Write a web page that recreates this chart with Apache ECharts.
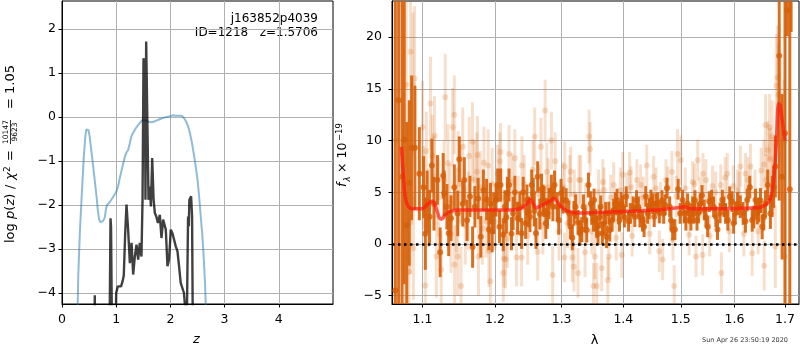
<!DOCTYPE html>
<html>
<head>
<meta charset="utf-8">
<script src="https://cdn.jsdelivr.net/npm/echarts@6/dist/echarts.min.js"></script>
<style>
html, body { margin: 0; padding: 0; background: #fff; }
#chart { width: 800px; height: 350px; }
</style>
</head>
<body>
<div id="chart"></div>
<script>
// left panel: log p(z), [z, value]
var pzTicksX = [0, 1, 2, 3, 4];
var pzTicksY = [-4, -3, -2, -1, 0, 1, 2];
var pzBlue = [[0.27,-5.5],[0.30,-3.6],[0.33,-2.6],[0.36,-1.88],[0.40,-0.95],[0.43,-0.44],[0.45,-0.28],[0.47,-0.235],[0.49,-0.3],[0.51,-0.44],[0.54,-0.75],[0.575,-1.12],[0.61,-1.5],[0.636,-1.8],[0.66,-2.1],[0.685,-2.33],[0.71,-2.39],[0.73,-2.39],[0.76,-2.36],[0.79,-2.28],[0.81,-2.1],[0.83,-2.0],[0.87,-1.95],[0.91,-1.88],[0.95,-1.8],[0.99,-1.73],[1.03,-1.6],[1.06,-1.42],[1.11,-1.15],[1.16,-0.9],[1.19,-0.8],[1.22,-0.75],[1.25,-0.6],[1.28,-0.44],[1.31,-0.36],[1.34,-0.3],[1.38,-0.22],[1.43,-0.14],[1.49,-0.06],[1.53,-0.07],[1.58,-0.1],[1.65,-0.12],[1.70,-0.1],[1.74,-0.08],[1.80,-0.05],[1.86,-0.02],[1.95,0.01],[2.0,0.02],[2.04,0.04],[2.07,0.01],[2.1,0.03],[2.13,0.0],[2.16,0.03],[2.21,0.03],[2.25,-0.02],[2.29,-0.1],[2.33,-0.22],[2.36,-0.36],[2.40,-0.6],[2.44,-0.9],[2.47,-1.15],[2.50,-1.42],[2.53,-1.8],[2.56,-2.26],[2.59,-2.7],[2.61,-3.09],[2.64,-3.8],[2.67,-5.0]];
var pzBlack = [[0.59,-6],[0.605,-4.05],[0.62,-6],[0.87,-6],[0.895,-2.3],[0.905,-2.5],[0.93,-6],[0.975,-6],[1.0,-4.0],[1.03,-3.85],[1.06,-3.81],[1.09,-3.85],[1.118,-3.73],[1.14,-3.6],[1.166,-2.64],[1.19,-1.99],[1.22,-2.56],[1.252,-3.32],[1.283,-2.86],[1.313,-3.58],[1.344,-3.17],[1.375,-2.9],[1.405,-3.24],[1.436,-2.86],[1.466,-3.17],[1.486,-1.88],[1.504,1.34],[1.529,1.0],[1.54,-1.88],[1.553,1.72],[1.578,1.72],[1.596,-1.88],[1.62,-1.58],[1.64,-2.03],[1.664,-0.93],[1.69,-1.88],[1.713,-2.18],[1.74,-2.26],[1.77,-2.41],[1.805,-2.22],[1.835,-2.75],[1.866,-2.33],[1.915,-2.56],[1.946,-3.39],[1.975,-3.24],[2.007,-2.56],[2.038,-2.64],[2.07,-2.6],[2.099,-2.94],[2.13,-3.05],[2.16,-3.39],[2.19,-3.77],[2.22,-3.81],[2.25,-4.0],[2.27,-4.3],[2.29,-6],[2.315,-6],[2.326,-2.26],[2.34,-2.48],[2.35,-1.88],[2.382,-1.8],[2.40,-2.26],[2.42,-6]];

// right panel: spectrum, [lambda, flux, err]
var lamTicks = [1.1, 1.2, 1.3, 1.4, 1.5, 1.6, 1.7];
var fluxTicks = [-5, 0, 5, 10, 15, 20];
var lightPts = [[1.0657,10,25],[1.0787,15.4,8],[1.0844,18.6,8],[1.0874,15.4,7],[1.0895,16,7],[1.0773,-1.2,6],[1.0822,-2.7,6],[1.0880,-0.4,5],[1.0839,2.1,5],[1.1000,11.3,4.5],[1.1037,-4,4],[1.1014,5.5,4],[1.1106,13.6,4.5],[1.1130,8.5,4],[1.1152,6.5,4],[1.1185,-1.2,4],[1.1290,6.2,3.8],[1.1304,14.2,4.2],[1.1383,1.0,3.8],[1.1406,11.3,3.8],[1.1428,12.5,3.8],[1.1432,-2,3.8],[1.1475,-1.2,3.8],[1.1480,7.1,3.8],[1.1520,-4.05,3.8],[1.1544,9.4,3.8],[1.1635,8.5,3.8],[1.1704,6.2,3.8],[1.1741,7,3.8],[1.1750,8.6,3.8],[1.1765,-1.2,3.8],[1.1820,1.5,3.5],[1.1842,7.85,3.5],[1.1903,7.6,3.5],[1.1912,-0.65,3.5],[1.1935,-3.6,3.5],
    [1.1050,9.0,3.8],[1.1080,3.5,3.8],[1.1160,10.5,3.8],[1.1215,4.5,3.8],[1.1250,-2.5,3.8],[1.1340,7.8,3.8],[1.1370,4.0,3.8],[1.1455,3.0,3.8],[1.1510,5.8,3.8],[1.1580,1.8,3.8],[1.1620,3.2,3.8],[1.1680,9.9,3.8],[1.1790,5.5,3.5],[1.1870,2.2,3.5],[1.1960,5.8,3.5],
    [1.2039,6.8,2.8],[1.2069,8.0,2.8],[1.2080,8.9,2.8],[1.2120,-2.8,2.8],[1.2129,-1.4,2.8],[1.2155,-1.5,2.8],[1.2204,8.7,2.8],[1.2290,8.3,2.8],[1.2315,-1.3,2.8],[1.2390,-1.3,2.8],[1.2395,7.6,2.8],[1.2586,10.4,2.8],[1.2631,-0.74,2.8],[1.2681,9.4,2.8],[1.2745,12.9,3],[1.2771,7,2.8],[1.2841,10.0,2.8],[1.2861,-3.0,2.8],
    [1.2000,2.2,2.8],[1.2100,4.5,2.8],[1.2180,0.5,2.8],[1.2250,6.0,2.8],[1.2340,3.8,2.8],[1.2430,5.8,2.8],[1.2480,0.8,2.8],[1.2560,7.2,2.8],[1.2650,4.8,2.8],[1.2710,1.8,2.8],[1.2790,5.5,2.8],[1.2900,8.0,2.8],[1.2960,1.2,2.8],
    [1.3044,-1.3,2.4],[1.3048,7.5,2.4],[1.3129,6.2,2.4],[1.3141,7,2.4],[1.3168,-1.3,2.4],[1.3194,-2.2,2.4],[1.3258,-2.8,2.4],[1.3274,6.2,2.4],[1.3371,-0.8,2.4],[1.3436,10.4,2.6],[1.3452,9.2,2.6],[1.3507,-4.05,2.2],[1.3528,-1.2,2.2],[1.3560,-4.05,2.2],[1.3641,-2.35,2.2],[1.3678,5.2,2.2],[1.3742,-3.5,2.2],[1.3758,-1.2,2.2],[1.3839,5.7,2.2],[1.3974,-1.06,2.2],[1.3990,6.7,2.2],
    [1.3020,5.5,2.4],[1.3090,2.0,2.4],[1.3200,4.8,2.4],[1.3300,6.2,2.4],[1.3380,3.5,2.4],[1.3480,1.2,2.2],[1.3590,5.0,2.2],[1.3660,6.0,2.2],[1.3790,4.5,2.2],[1.3880,0.6,2.2],[1.3950,5.2,2.2],
    [1.4106,6.9,2],[1.4130,5.5,2],[1.4294,5.7,2],[1.4400,7.6,2],[1.4519,6.5,2],[1.4618,-0.7,2],[1.4677,-1.5,2],[1.4735,6.2,2],[1.4841,7.0,2],[1.4882,-4.05,2],[1.4941,8.7,2.4],[1.5000,8.1,2.4],
    [1.4060,4.9,2],[1.4150,0.8,2],[1.4230,6.2,2],[1.4340,4.5,2],[1.4450,1.0,2],[1.4560,5.4,2],[1.4640,4.0,2],[1.4770,5.5,2],[1.4860,0.4,2],[1.4920,4.6,2],
    [1.5215,6.0,2],[1.5276,-1.2,2],[1.5307,8.1,2],[1.5399,-1.06,2],[1.5405,6.8,2],[1.5584,5.6,2],[1.5737,5.7,2],[1.5750,-2.8,2],[1.5861,6.8,2],
    [1.5080,5.4,2],[1.5150,0.9,2],[1.5250,5.8,2],[1.5350,4.5,2],[1.5460,6.2,2],[1.5530,0.8,2],[1.5640,5.0,2],[1.5820,6.4,2],[1.5900,1.2,2],[1.5980,5.6,2],
    [1.6059,5.2,2],[1.6112,7.5,2],[1.6211,6.8,2],[1.6310,7.5,2.2],[1.6343,-0.9,2.2],[1.6520,7.1,2.2],[1.6572,7.7,2.4],[1.6580,-2.1,2.4],[1.6651,9.1,2.8],[1.6606,11.5,3],[1.6685,11.3,3.2],[1.6738,10.4,3.5],[1.6803,-0.25,4],[1.6823,15.3,5],[1.6849,16.1,5],[1.6868,14.4,5],[1.6902,12.9,5],[1.6980,9.9,6],[1.7000,-1.2,6],
    [1.6090,4.8,2.2],[1.6180,1.0,2.2],[1.6260,6.2,2.2],[1.6400,5.0,2.2],[1.6460,1.2,2.2],[1.6620,6.2,2.5],[1.6700,8.2,3],[1.6760,6.8,3.5]];
var darkPts = [[1.0646,-4.5,30],[1.0689,13.9,30],[1.0733,6.5,25],[1.0761,10.1,14],[1.0794,1.8,10],[1.0826,5.9,8],[1.0857,9.3,7],[1.0900,9.3,6],[1.0958,6.8,4.5],[1.1037,1.0,3.5],[1.1061,4.1,3],[1.1124,7.6,2.6],[1.1152,3.9,2.6],[1.1235,-0.8,2.4],[1.1276,6.6,2.2],[1.1290,4.9,2.2],[1.1383,2.5,2.2],[1.1428,5.5,2.2],[1.1497,8.2,2.2],[1.1544,3.9,2.2],[1.1645,4.6,2],[1.1682,-0.3,2],[1.1760,4.4,2],[1.1797,0.7,2],[1.1880,4.3,2],[1.1912,1.4,2],[1.1959,1.2,2],
    [1.1014,5.5,3],[1.1093,2.64,2.6],[1.1199,6.2,2.4],[1.1327,3.6,2.2],[1.1351,1.03,2.2],[1.1475,2.96,2.2],[1.1566,6.2,2.2],[1.1604,2.3,2],[1.1714,3.6,2],[1.1834,5.2,2],[1.1935,3.9,2],
    [1.2039,5.7,1.6],[1.2080,5.7,1.6],[1.2120,0.9,1.6],[1.2165,2.6,1.6],[1.2204,5.7,1.6],[1.2240,1.0,1.6],[1.2290,5.0,1.6],[1.2330,2.5,1.6],[1.2414,5.0,1.5],[1.2450,2.0,1.5],[1.2495,3.1,1.5],[1.2541,5.7,1.5],[1.2580,3.2,1.5],[1.2631,6.5,1.5],[1.2665,2.9,1.5],[1.2690,5.3,1.5],[1.2729,4.1,1.5],[1.2755,2.0,1.5],[1.2805,3.9,1.5],[1.2841,5.2,1.5],[1.2890,5.7,1.4],[1.2931,3.6,1.4],[1.2991,4.9,1.4],
    [1.1981,2.96,2],[1.2015,4.25,1.6],[1.2065,1.67,1.6],[1.2144,3.6,1.6],[1.2180,4.9,1.6],[1.2264,2.96,1.6],[1.2365,3.6,1.5],[1.2390,1.03,1.5],[1.2470,4.25,1.5],[1.2515,2.64,1.5],[1.2564,4.9,1.5],[1.2605,1.03,1.5],[1.2714,4.25,1.5],[1.2780,2.96,1.5],[1.2864,3.6,1.4],[1.2955,2.3,1.4],[1.3023,4.25,1.3],
    [1.3071,4.2,1.2],[1.3113,3.0,1.2],[1.3168,0.6,1.2],[1.3221,3.6,1.2],[1.3258,2.1,1.2],[1.3318,1.4,1.2],[1.3371,2.3,1.2],[1.3426,5.7,1.2],[1.3463,3.9,1.2],[1.3507,2.3,1.1],[1.3544,2.3,1.1],[1.3581,1.0,1.1],[1.3613,2.6,1.1],[1.3678,2.0,1.1],[1.3721,0.7,1.1],[1.3758,3.0,1.1],[1.3813,2.3,1.1],[1.3866,3.9,1.1],[1.3919,3.0,1.1],[1.3963,3.9,1.1],
    [1.3140,1.67,1.2],[1.3194,2.96,1.2],[1.3290,1.03,1.2],[1.3345,3.6,1.2],[1.3398,1.35,1.2],[1.3479,2.96,1.1],[1.3516,4.25,1.1],[1.3560,1.67,1.1],[1.3624,3.6,1.1],[1.3652,1.03,1.1],[1.3705,2.96,1.1],[1.3774,1.35,1.1],[1.3839,3.28,1.1],[1.3894,4.25,1.1],[1.3936,2.3,1.1],[1.3990,3.6,1.1],
    [1.4018,2.6,1],[1.4088,2.2,1],[1.4166,3.6,1],[1.4224,4.2,1],[1.4282,2.6,1],[1.4325,2.2,1],[1.4383,4.6,1],[1.4441,3.4,1],[1.4501,3.9,1],[1.4559,3.9,1],[1.4618,3.0,1],[1.4665,4.2,1],[1.4718,3.8,1],[1.4753,5.4,1],[1.4824,2.3,1],[1.4894,1.4,1],[1.4952,5.3,1],
    [1.4048,4.57,1],[1.4118,2.96,1],[1.4194,2.64,1],[1.4254,3.6,1],[1.4353,1.67,1],[1.4413,2.96,1],[1.4471,4.25,1],[1.4529,2.64,1],[1.4589,4.0,1],[1.4695,2.96,1],[1.4801,3.6,1],[1.4854,1.35,1],[1.4988,2.96,1],
    [1.5061,3.0,1],[1.5123,3.9,1],[1.5184,2.3,1],[1.5215,3.6,1],[1.5258,4.2,1],[1.5319,3.0,1],[1.5387,4.7,1],[1.5460,2.6,1],[1.5521,4.1,1],[1.5603,3.6,1],[1.5676,1.4,1],[1.5724,3.0,1],[1.5798,3.6,1],[1.5872,2.3,1],[1.5952,4.1,1],
    [1.5031,4.25,1],[1.5092,2.3,1],[1.5153,2.96,1],[1.5234,2.96,1],[1.5295,2.3,1],[1.5355,3.9,1],[1.5429,3.3,1],[1.5492,1.67,1],[1.5565,4.25,1],[1.5645,2.64,1],[1.5768,4.25,1],[1.5829,2.96,1],[1.5908,4.57,1],[1.5982,2.0,1],
    [1.6014,3.0,1.1],[1.6112,3.6,1.1],[1.6211,2.2,1.1],[1.6296,5.5,1.1],[1.6375,2.6,1.1],[1.6442,3.0,1.1],[1.6507,4.2,1.2],[1.6572,2.6,1.3],[1.6651,5.7,1.5],[1.6738,4.6,2],[1.6803,7.5,3],
    [1.6059,3.9,1.1],[1.6166,2.96,1.1],[1.6245,4.25,1.1],[1.6343,2.3,1.1],[1.6408,4.25,1.1],[1.6473,3.3,1.2],[1.6540,1.67,1.2],[1.6605,3.9,1.3],[1.6704,2.96,1.5],[1.6770,5.5,2],
    [1.6882,18.2,14],[1.6941,6.5,8],[1.7000,10.7,30],[1.7046,22.6,2.5],[1.7098,5.3,30],[1.7125,26,5.5]];
var modelLam = [1.0723,1.0752,1.0773,1.0817,1.0880,1.0992,1.1061,1.1130,1.1175,1.1221,1.1254,1.1300,1.1359,1.1475,1.1704,1.2004,1.2229,1.2405,1.2470,1.2519,1.2555,1.2606,1.2681,1.2805,1.2881,1.2931,1.2991,1.3087,1.3248,1.3995,1.4590,1.4941,1.5061,1.5184,1.6442,1.6606,1.6705,1.6770,1.6823,1.6868,1.6902,1.6941,1.7000];
var modelFlux = [9.4,6.5,4.6,3.6,3.4,3.4,3.8,4.15,3.6,2.6,2.4,2.8,3.1,3.3,3.3,3.3,3.3,3.5,3.9,4.3,4.0,3.5,3.7,4.1,4.4,4.1,3.6,3.2,3.0,3.15,3.3,3.5,3.6,3.4,3.5,3.8,4.4,6.2,9.7,13.6,13.4,12.0,10.0];

var font = 'DejaVu Sans';
var lg = Math.log10;

function minus(v) { return String(v).replace('-', '\u2212'); }

function errorBars(color) {
    return function (params, api) {
        var x = api.value(0), y = api.value(1), e = api.value(2);
        var lo = api.coord([x, y - e]), hi = api.coord([x, y + e]);
        var cs = params.coordSys;
        var top = Math.max(hi[1], cs.y), bot = Math.min(lo[1], cs.y + cs.height);
        if (bot <= top) return;
        return {
            type: 'line',
            shape: { x1: lo[0], y1: bot, x2: lo[0], y2: top },
            style: { stroke: color, lineWidth: 3 }
        };
    };
}

// rotated label piece: local x runs upward along the axis, y is baseline offset
function piece(text, x, y, size, italic, align) {
    return {
        type: 'text', x: x, y: y,
        style: {
            text: text, fontSize: size, fontFamily: font, fontStyle: italic ? 'italic' : 'normal',
            fill: '#000', align: align || 'left', verticalAlign: 'bottom'
        }
    };
}

var axisCommon = {
    axisLine: { show: true, onZero: false, lineStyle: { color: '#000', width: 1 } },
    axisTick: { show: true, inside: false, length: 3.5, lineStyle: { color: '#000' } },
    splitLine: { show: true, lineStyle: { color: '#b0b0b0', width: 1 } }
};

var chart = echarts.init(document.getElementById('chart'), null, { renderer: 'canvas' });

var option = {
    animation: false,
    backgroundColor: '#fff',
    grid: [
        { left: 62, top: 1, width: 271, height: 303, show: true, borderColor: '#000', borderWidth: 1, backgroundColor: 'transparent' },
        { left: 392, top: 1, width: 407, height: 303, show: true, borderColor: '#000', borderWidth: 1, backgroundColor: 'transparent' }
    ],
    xAxis: [
        Object.assign({}, axisCommon, {
            type: 'value', gridIndex: 0, min: 0, max: 5,
            axisTick: Object.assign({}, axisCommon.axisTick, { customValues: pzTicksX }),
            axisLabel: { customValues: pzTicksX, color: '#000', fontSize: 12.5, fontFamily: font, margin: 9 }
        }),
        Object.assign({}, axisCommon, {
            type: 'value', gridIndex: 1, min: lg(1.0604), max: lg(1.7288),
            axisTick: Object.assign({}, axisCommon.axisTick, { customValues: lamTicks.map(lg) }),
            axisLabel: {
                customValues: lamTicks.map(lg), color: '#000', fontSize: 12.5, fontFamily: font, margin: 9,
                formatter: function (v) { return Math.pow(10, v).toFixed(1); }
            }
        })
    ],
    yAxis: [
        Object.assign({}, axisCommon, {
            type: 'value', gridIndex: 0, min: -4.25, max: 2.64,
            axisTick: Object.assign({}, axisCommon.axisTick, { customValues: pzTicksY }),
            axisLabel: { customValues: pzTicksY, color: '#000', fontSize: 12.5, fontFamily: font, margin: 6, formatter: minus }
        }),
        Object.assign({}, axisCommon, {
            type: 'value', gridIndex: 1, min: -5.8, max: 23.5,
            axisTick: Object.assign({}, axisCommon.axisTick, { customValues: fluxTicks }),
            axisLabel: { customValues: fluxTicks, color: '#000', fontSize: 12.5, fontFamily: font, margin: 10, formatter: minus }
        })
    ],
    series: [
        {
            type: 'line', xAxisIndex: 0, yAxisIndex: 0, data: pzBlue, showSymbol: false,
            lineStyle: { color: 'rgba(31,119,180,0.5)', width: 2 }, z: 3
        },
        {
            type: 'line', xAxisIndex: 0, yAxisIndex: 0, data: pzBlack, showSymbol: false,
            lineStyle: { color: 'rgba(0,0,0,0.75)', width: 2.4 }, z: 4
        },
        {
            type: 'custom', xAxisIndex: 1, yAxisIndex: 1, renderItem: errorBars('rgba(217,95,2,0.2)'),
            data: lightPts.map(function (p) { return [lg(p[0]), p[1], p[2]]; }), encode: { x: 0, y: 1 }, z: 2
        },
        {
            type: 'scatter', xAxisIndex: 1, yAxisIndex: 1, symbolSize: 6,
            itemStyle: { color: 'rgba(217,95,2,0.25)' },
            data: lightPts.map(function (p) { return [lg(p[0]), p[1]]; }), z: 2
        },
        {
            type: 'custom', xAxisIndex: 1, yAxisIndex: 1, renderItem: errorBars('rgba(214,95,8,0.9)'),
            data: darkPts.map(function (p) { return [lg(p[0]), p[1], p[2]]; }), encode: { x: 0, y: 1 }, z: 3
        },
        {
            type: 'scatter', xAxisIndex: 1, yAxisIndex: 1, symbolSize: 6,
            itemStyle: { color: 'rgb(214,95,8)' },
            data: darkPts.map(function (p) { return [lg(p[0]), p[1]]; }), z: 3
        },
        {
            type: 'line', xAxisIndex: 1, yAxisIndex: 1, showSymbol: false, smooth: 0.3,
            data: modelLam.map(function (l, i) { return [lg(l), modelFlux[i]]; }),
            lineStyle: { color: 'rgba(255,25,15,0.7)', width: 3.5 }, z: 5,
            markLine: {
                silent: true, symbol: 'none', label: { show: false },
                lineStyle: { color: '#000', width: 2.5, type: [2.5, 3.5] },
                data: [{ yAxis: 0 }]
            }
        }
    ],
    graphic: [
        { type: 'text', right: 800 - 318, top: 13, style: { text: 'j163852p4039', fontSize: 12, fontFamily: font, fill: '#000', align: 'right' } },
        { type: 'text', right: 800 - 318, top: 27, style: { text: 'ID=1218   z=1.5706', fontSize: 12, fontFamily: font, fill: '#000', align: 'right' } },
        { type: 'text', x: 196.5, y: 340, style: { text: 'z', fontSize: 13, fontStyle: 'italic', fontFamily: font, fill: '#000', align: 'center', verticalAlign: 'middle' } },
        { type: 'text', x: 594.5, y: 341, style: { text: '\u03bb', fontSize: 13, fontFamily: font, fill: '#000', align: 'center', verticalAlign: 'middle' } },
        { type: 'text', x: 788, y: 340, style: { text: 'Sun Apr 26 23:50:19 2020', fontSize: 6.5, fontFamily: font, fill: '#333', align: 'right', verticalAlign: 'middle' } },
        {
            type: 'group', x: 17, y: 243, rotation: Math.PI / 2,
            children: [
                piece('log', 0, 0, 13),
                piece('p', 24, 0, 13, true),
                piece('(', 32.3, 0, 13),
                piece('z', 37.4, 0, 13, true),
                piece(')', 44.2, 0, 13),
                piece('/', 54, 0, 13),
                piece('\u03c7', 63, 0, 13, true),
                piece('2', 71, -5, 9),
                piece('=', 82, 0, 13),
                piece('10147', 111, -6.5, 7.5, false, 'center'),
                { type: 'line', shape: { x1: 99, y1: -6.5, x2: 123, y2: -6.5 }, style: { stroke: '#000', lineWidth: 0.8 } },
                piece('9623', 111, 2, 7.5, false, 'center'),
                piece('= 1.05', 178, 0, 13, false, 'right')
            ]
        },
        {
            type: 'group', x: 349, y: 187, rotation: Math.PI / 2,
            children: [
                piece('f', 0, 0, 12.5, true),
                piece('\u03bb', 5.5, 3, 8.5, true),
                piece('\u00d7 10', 14, 0, 12.5),
                piece('\u221219', 46, -5, 8.5)
            ]
        }
    ]
};

chart.setOption(option);
</script>
</body>
</html>
